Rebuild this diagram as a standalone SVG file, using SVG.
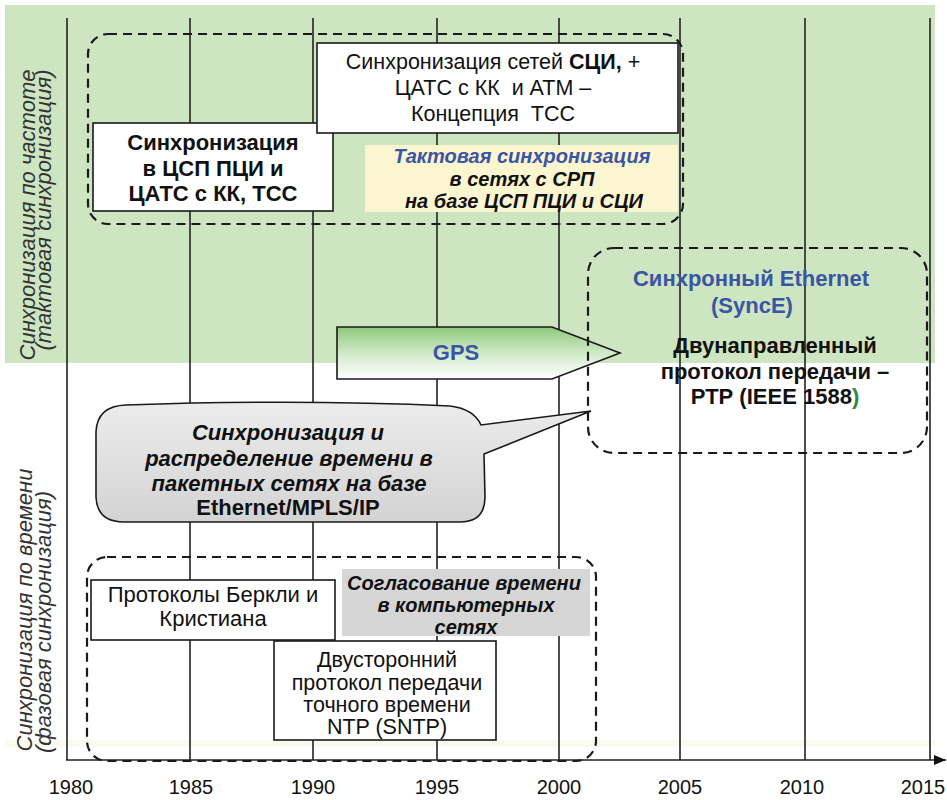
<svg xmlns="http://www.w3.org/2000/svg" width="947" height="800" viewBox="0 0 947 800">
  <defs>
    <linearGradient id="gpsFill" x1="0" y1="0" x2="0" y2="1">
      <stop offset="0" stop-color="#8ec97c"/>
      <stop offset="0.55" stop-color="#d6ecce"/>
      <stop offset="1" stop-color="#ffffff"/>
    </linearGradient>
    <linearGradient id="bubbleFill" x1="0" y1="0" x2="0" y2="1">
      <stop offset="0" stop-color="#ececec"/>
      <stop offset="1" stop-color="#d3d3d3"/>
    </linearGradient>
    <marker id="axisArrow" markerWidth="12" markerHeight="10" refX="12" refY="5" orient="auto" markerUnits="userSpaceOnUse">
      <path d="M0,0 L12,5 L0,10 Z" fill="#111"/>
    </marker>
  </defs>
  <style>
    text { font-family: "Liberation Sans", Arial, sans-serif; fill: #111; }
    .grid { stroke: #222; stroke-width: 1.6; fill: none; }
    .box { fill: #fff; stroke: #1a1a1a; stroke-width: 1.6; }
    .dash { fill: none; stroke: #1a1a1a; stroke-width: 2.2; stroke-dasharray: 9 6; }
    .side { font-size: 22px; font-style: italic; fill: #333; text-anchor: middle; }
    .year { font-size: 20px; text-anchor: middle; }
    .c { text-anchor: middle; }
    .b { font-weight: bold; }
    .bi { font-weight: bold; font-style: italic; }
    .blue { fill: #3b55a5; }
  </style>

  <!-- background bands -->
  <rect x="0" y="0" width="947" height="800" fill="#ffffff"/>
  <rect x="5" y="5" width="930" height="358" fill="#cde5c0"/>
  <rect x="5" y="740" width="930" height="7" fill="#fafbee"/>

  <!-- time grid and axis -->
  <g id="grid">
    <line class="grid" x1="67" y1="18" x2="67" y2="760"/>
    <line class="grid" x1="190" y1="18" x2="190" y2="760"/>
    <line class="grid" x1="313" y1="18" x2="313" y2="760"/>
    <line class="grid" x1="437" y1="18" x2="437" y2="760"/>
    <line class="grid" x1="559" y1="18" x2="559" y2="760"/>
    <line class="grid" x1="680" y1="18" x2="680" y2="760"/>
    <line class="grid" x1="805" y1="18" x2="805" y2="760"/>
    <line class="grid" x1="930" y1="18" x2="930" y2="760"/>
    <line class="grid" x1="66" y1="760" x2="946" y2="760" marker-end="url(#axisArrow)"/>
  </g>

  <!-- year labels -->
  <g id="years">
    <text class="year" x="71" y="794">1980</text>
    <text class="year" x="191" y="794">1985</text>
    <text class="year" x="313" y="794">1990</text>
    <text class="year" x="437" y="794">1995</text>
    <text class="year" x="559" y="794">2000</text>
    <text class="year" x="680" y="794">2005</text>
    <text class="year" x="802" y="794">2010</text>
    <text class="year" x="923" y="794">2015</text>
  </g>

  <!-- side captions -->
  <g id="side-frequency">
    <text class="side" transform="translate(35,215) rotate(-90)">Синхронизация по частоте</text>
    <text class="side" transform="translate(51,210) rotate(-90)">(тактовая синхронизация)</text>
  </g>
  <g id="side-time">
    <text class="side" transform="translate(32,610) rotate(-90)">Синхронизация по времени</text>
    <text class="side" transform="translate(51,622) rotate(-90)">(фазовая синхронизация)</text>
  </g>

  <!-- frequency synchronisation nodes -->
  <g id="pdh-box">
    <rect class="box" x="93" y="123" width="240" height="88"/>
    <text class="c b" font-size="22" x="213" y="150">Синхронизация</text>
    <text class="c b" font-size="22" x="213" y="176">в ЦСП ПЦИ и</text>
    <text class="c b" font-size="22" x="213" y="201">ЦАТС с КК, ТСС</text>
  </g>

  <g id="sdh-box">
    <rect class="box" x="317" y="43" width="361" height="90"/>
    <text class="c" font-size="21.5" x="493" y="69">Синхронизация сетей <tspan class="b">СЦИ,</tspan> +</text>
    <text class="c" font-size="21.5" x="493" y="95" xml:space="preserve">ЦАТС с КК  и АТМ –</text>
    <text class="c" font-size="21.5" x="493" y="121" xml:space="preserve">Концепция  ТСС</text>
  </g>

  <g id="clock-sync-note">
    <rect x="365" y="145" width="313" height="67" fill="#fcf6d0"/>
    <text class="c bi blue" font-size="20" x="522" y="163">Тактовая синхронизация</text>
    <text class="c bi" font-size="20" x="522" y="186">в сетях с СРП</text>
    <text class="c bi" font-size="20" x="524" y="208">на базе ЦСП ПЦИ и СЦИ</text>
  </g>

  <!-- GPS arrow -->
  <g id="gps">
    <path d="M337,327 L552,327 L620,353 L552,379 L337,379 Z" fill="url(#gpsFill)" stroke="#1a1a1a" stroke-width="1.6"/>
    <text class="c b blue" font-size="22" x="456" y="360">GPS</text>
  </g>

  <!-- packet network callout -->
  <g id="packet-callout">
    <path d="M126,405 Q300,399 450,406 Q474,409 481,425 L591,411 L484,454 L485,497 Q485,522 460,522 L124,522 Q97,522 96,497 L96,432 Q97,406 126,405 Z" fill="url(#bubbleFill)" stroke="#1a1a1a" stroke-width="1.6"/>
    <text class="c bi" font-size="22" x="288" y="440">Синхронизация и</text>
    <text class="c bi" font-size="22" x="289" y="466">распределение времени в</text>
    <text class="c bi" font-size="22" x="289" y="491">пакетных сетях на базе</text>
    <text class="c b" font-size="22" x="288" y="515">Ethernet/MPLS/IP</text>
  </g>

  <!-- time synchronisation nodes -->
  <g id="berkeley-box">
    <rect class="box" x="91" y="580" width="244" height="60"/>
    <text class="c" font-size="22" x="213" y="602">Протоколы Беркли и</text>
    <text class="c" font-size="22" x="213" y="626">Кристиана</text>
  </g>

  <g id="computer-nets-note">
    <rect x="342" y="569" width="248" height="67" fill="#d6d6d6"/>
    <text class="c bi" font-size="20" x="464" y="590">Согласование времени</text>
    <text class="c bi" font-size="20" x="466" y="612">в компьютерных</text>
    <text class="c bi" font-size="20" x="466" y="634">сетях</text>
  </g>

  <g id="ntp-box">
    <rect class="box" x="274" y="641" width="222" height="99"/>
    <text class="c" font-size="21.5" x="387" y="667">Двусторонний</text>
    <text class="c" font-size="21.5" x="387" y="690">протокол передачи</text>
    <text class="c" font-size="21.5" x="387" y="712">точного времени</text>
    <text class="c" font-size="21.5" x="387" y="734">NTP (SNTP)</text>
  </g>

  <!-- Ethernet / PTP area -->
  <g id="synce-ptp">
    <text class="c b blue" font-size="22" x="751" y="286">Синхронный Ethernet</text>
    <text class="c b blue" font-size="22" x="752" y="313">(SyncE)</text>
    <text class="c b" font-size="22" x="775" y="353">Двунаправленный</text>
    <text class="c b" font-size="22" x="775" y="379">протокол передачи –</text>
    <text class="c b" font-size="22" x="775" y="404">РТР (IEEE 1588<tspan fill="#2e8b3e">)</tspan></text>
  </g>

  <!-- dashed grouping frames -->
  <g id="frames">
    <rect class="dash" x="88" y="34" width="595" height="190" rx="20" ry="20"/>
    <rect class="dash" x="588" y="248" width="339" height="205" rx="26" ry="26"/>
    <rect class="dash" x="87" y="557" width="509" height="204" rx="20" ry="20"/>
  </g>
</svg>
